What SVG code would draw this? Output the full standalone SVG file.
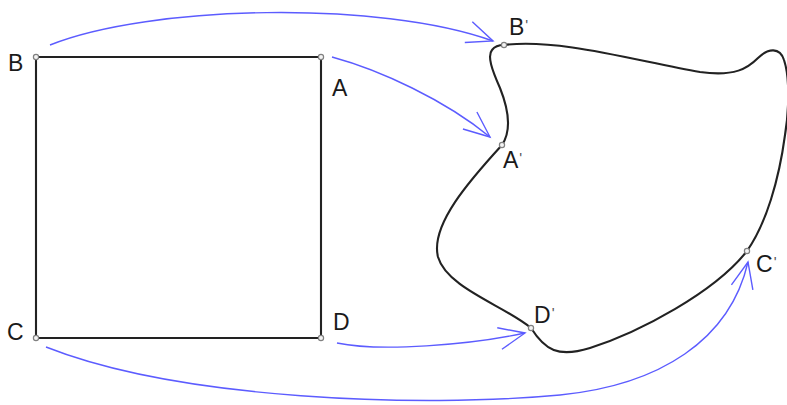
<svg xmlns="http://www.w3.org/2000/svg" width="787" height="405" viewBox="0 0 787 405">
  <style>
    .shape { fill: none; stroke: #222; stroke-width: 2.1; stroke-linejoin: round; }
    .map { fill: none; stroke: #5c5cff; stroke-width: 1.4; }
    .pt { fill: #f4f4f4; stroke: #808080; stroke-width: 1.2; }
    .lbl { font-family: "Liberation Sans", Arial, sans-serif; font-size: 23px; fill: #1a1a1a; }
    .pr { font-size: 15px; fill: #555; }
  </style>
  <defs>
    <marker id="chevron" viewBox="-28 -14 30 28" refX="0" refY="0" markerWidth="30" markerHeight="28" markerUnits="userSpaceOnUse" orient="auto" overflow="visible">
      <path d="M -26,-11 L 0,0 L -26,11" fill="none" stroke="#5c5cff" stroke-width="1.4" stroke-linejoin="miter"/>
    </marker>
  </defs>

  <rect width="787" height="405" fill="#ffffff"/>

  <!-- square ABCD -->
  <g id="square">
    <path class="shape" d="M 36,57 L 321,57 L 321,338 L 36,338 Z"/>
  </g>

  <!-- deformed image of the square -->
  <g id="blob">
    <path class="shape" d="M 504,45
      C 560,38 640,62 700,72
      C 735,77 748,68 758,58
      C 768,48 780,47 784,60
      C 790,78 789,110 785,135
      C 779,180 766,224 747,251
      C 715,292 640,332 590,348
      C 558,358 545,350 531,328
      C 505,306 447,288 438,257
      C 430,225 470,180 502,145
      C 512,130 508,108 500,88
      C 492,70 487,56 492,50
      C 495,46 499,45 504,45 Z"/>
  </g>

  <!-- mapping arrows -->
  <g id="connectors">
    <path class="map" d="M 50,45 C 150,5 380,0 493,41" marker-end="url(#chevron)"/>
    <path class="map" d="M 332,57 C 380,70 445,100 490,137" marker-end="url(#chevron)"/>
    <path class="map" d="M 337,343 C 380,352 470,345 525,333" marker-end="url(#chevron)"/>
    <path class="map" d="M 46,347 C 180,400 420,408 560,395 C 660,385 730,340 748,262" marker-end="url(#chevron)"/>
  </g>

  <!-- vertices -->
  <g id="B"><circle class="pt" cx="36" cy="57" r="2.6"/><text class="lbl" x="8" y="71">B</text></g>
  <g id="A"><circle class="pt" cx="321" cy="57" r="2.6"/><text class="lbl" x="332" y="96">A</text></g>
  <g id="C"><circle class="pt" cx="36" cy="338" r="2.6"/><text class="lbl" x="7" y="340">C</text></g>
  <g id="D"><circle class="pt" cx="321" cy="338" r="2.6"/><text class="lbl" x="333" y="330">D</text></g>

  <g id="B1"><circle class="pt" cx="504" cy="45" r="2.6"/><text class="lbl" x="509" y="35">B<tspan class="pr" dx="1" dy="-5">'</tspan></text></g>
  <g id="A1"><circle class="pt" cx="502" cy="145" r="2.6"/><text class="lbl" x="503" y="168">A<tspan class="pr" dx="1" dy="-5">'</tspan></text></g>
  <g id="D1"><circle class="pt" cx="531" cy="328" r="2.6"/><text class="lbl" x="534" y="323">D<tspan class="pr" dx="1" dy="-5">'</tspan></text></g>
  <g id="C1"><circle class="pt" cx="747" cy="251" r="2.6"/><text class="lbl" x="756" y="272">C<tspan class="pr" dx="1" dy="-5">'</tspan></text></g>
</svg>
